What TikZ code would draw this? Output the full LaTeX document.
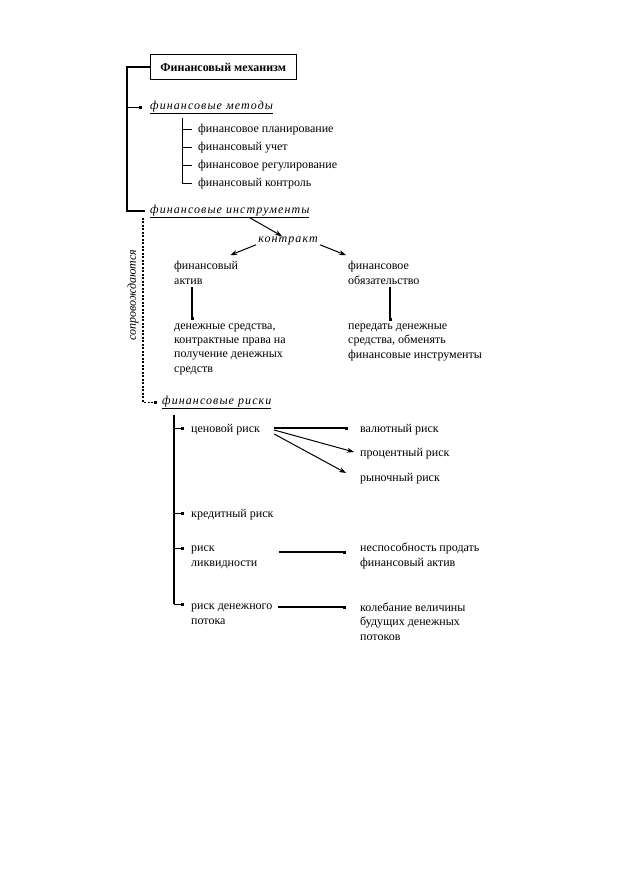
\documentclass[tikz,border=0pt]{standalone}
\usepackage{fontspec}
\setmainfont{Liberation Serif}
\usetikzlibrary{arrows.meta,positioning}

\begin{document}
\begin{tikzpicture}[x=1pt, y=-1pt,
    every node/.style={inner sep=0pt, font=\fontsize{12}{14.3}\selectfont},
    txt/.style={anchor=base west, align=left},
    head/.style={anchor=base west, font=\fontsize{12}{14.3}\selectfont\itshape\addfontfeature{LetterSpace=9}},
    box/.style={draw, anchor=west, inner xsep=6pt, minimum width=146pt, minimum height=25pt, font=\fontsize{12}{14.3}\selectfont\bfseries},
    spine/.style={line width=1.3pt},
    tick/.style={line width=1pt, -{Square[length=3pt,width=3pt]}},
    fine/.style={line width=0.5pt},
    link/.style={line width=1.3pt, -{Square[length=3pt,width=3pt]}},
    pointer/.style={line width=1pt, -{Stealth[length=7pt,width=5pt]}},
    dots/.style={line width=1.2pt, dash pattern=on 2pt off 1.5pt}
  ]
  \useasboundingbox (0,0) rectangle (630,891);

  % top part
  \node[box] (mech) at (150,67) {Финансовый механизм};
  \node[head] (methods) at (150,109) {\underline{финансовые методы}};
  \node[txt] (plan) at (198,132) {финансовое планирование};
  \node[txt] (uchet) at (198,150) {финансовый учет};
  \node[txt] (regul) at (198,168) {финансовое регулирование};
  \node[txt] (kontrol) at (198,186) {финансовый контроль};
  \node[head] (instr) at (150,213) {\underline{финансовые инструменты}};

  \coordinate (spinex) at (127,0);
  \draw[spine] (mech.west) -| (spinex |- instr.west) -- ([xshift=-5pt]instr.west);
  \draw[tick] (spinex |- methods.west) -- ([xshift=-8pt]methods.west);

  \coordinate (subx) at (182,118);
  \draw[fine] (subx) |- ([xshift=-6pt]kontrol.west);
  \foreach \n in {plan,uchet,regul}
    \draw[fine] (subx |- \n.west) -- ([xshift=-6pt]\n.west);

  % instruments
  \node[head, anchor=base] (kontrakt) at (288,242) {контракт};
  \node[txt] (aktiv) at (174,284) {финансовый\\актив};
  \node[txt] (obyaz) at (348,284) {финансовое\\обязательство};
  \node[txt] (aktivres) at (174,372) {денежные средства,\\контрактные права на\\получение денежных\\средств};
  \node[txt] (obyazres) at (348,358) {передать денежные\\средства, обменять\\финансовые инструменты};

  \draw[pointer] ([xshift=20pt]instr.south) -- ([xshift=-6pt]kontrakt.north);
  \draw[pointer] ([xshift=-2pt]kontrakt.south west) -- ([xshift=-8pt,yshift=6pt]aktiv.north east);
  \draw[pointer] ([xshift=2pt]kontrakt.south east) -- ([xshift=-2pt,yshift=6pt]obyaz.north west);
  \draw[link, shorten <=3pt, shorten >=3pt] ([xshift=18pt]aktiv.south west) -- ([xshift=18pt]aktivres.north west);
  \draw[link, shorten <=3pt, shorten >=3pt] ([xshift=42pt]obyaz.south west) -- ([xshift=42pt]obyazres.north west);

  % risks
  \node[head] (risks) at (162,404) {\underline{финансовые риски}};
  \node[rotate=90, font=\fontsize{12}{14.3}\selectfont\itshape] (accomp) at (133,295) {сопровождаются};
  \draw[dots, -{Square[length=3pt,width=3pt]}] ([xshift=-7pt]instr.south west) |- ([xshift=-5pt]risks.west);

  \node[txt] (price) at (191,432) {ценовой риск};
  \node[txt] (credit) at (191,517) {кредитный риск};
  \node[txt] (liquid) at (191,566) {риск\\ликвидности};
  \node[txt] (flow) at (191,624) {риск денежного\\потока};

  \node[txt] (currency) at (360,432) {валютный риск};
  \node[txt] (interest) at (360,456) {процентный риск};
  \node[txt] (market) at (360,481) {рыночный риск};
  \node[txt] (liquidres) at (360,566) {неспособность продать\\финансовый актив};
  \node[txt] (flowres) at (360,640) {колебание величины\\будущих денежных\\потоков};

  \coordinate (rtop) at (174,415);
  \draw[spine] (rtop) -- ([yshift=20pt]rtop |- flow.base west);
  \foreach \n/\d in {price/4,credit/4,liquid/18,flow/20}
    \draw[tick] ([yshift=\d pt]rtop |- \n.base west) -- ([xshift=-7pt,yshift=\d pt]\n.base west);

  \draw[link] ([xshift=14pt,yshift=4pt]price.base east) -- ([xshift=-12pt,yshift=4pt]currency.base west);
  \draw[pointer] ([xshift=14pt,yshift=2pt]price.base east) -- ([xshift=-6pt,yshift=4pt]interest.base west);
  \draw[pointer] ([xshift=14pt,yshift=-2pt]price.base east) -- ([xshift=-14pt,yshift=8pt]market.base west);
  \draw[link] ([xshift=21pt,yshift=14pt]liquid.base east) -- ([xshift=-14pt,yshift=14pt]liquidres.base west);
  \draw[link] ([xshift=6pt,yshift=17pt]flow.base east) -- ([xshift=-14pt,yshift=33pt]flowres.base west);
\end{tikzpicture}
\end{document}
